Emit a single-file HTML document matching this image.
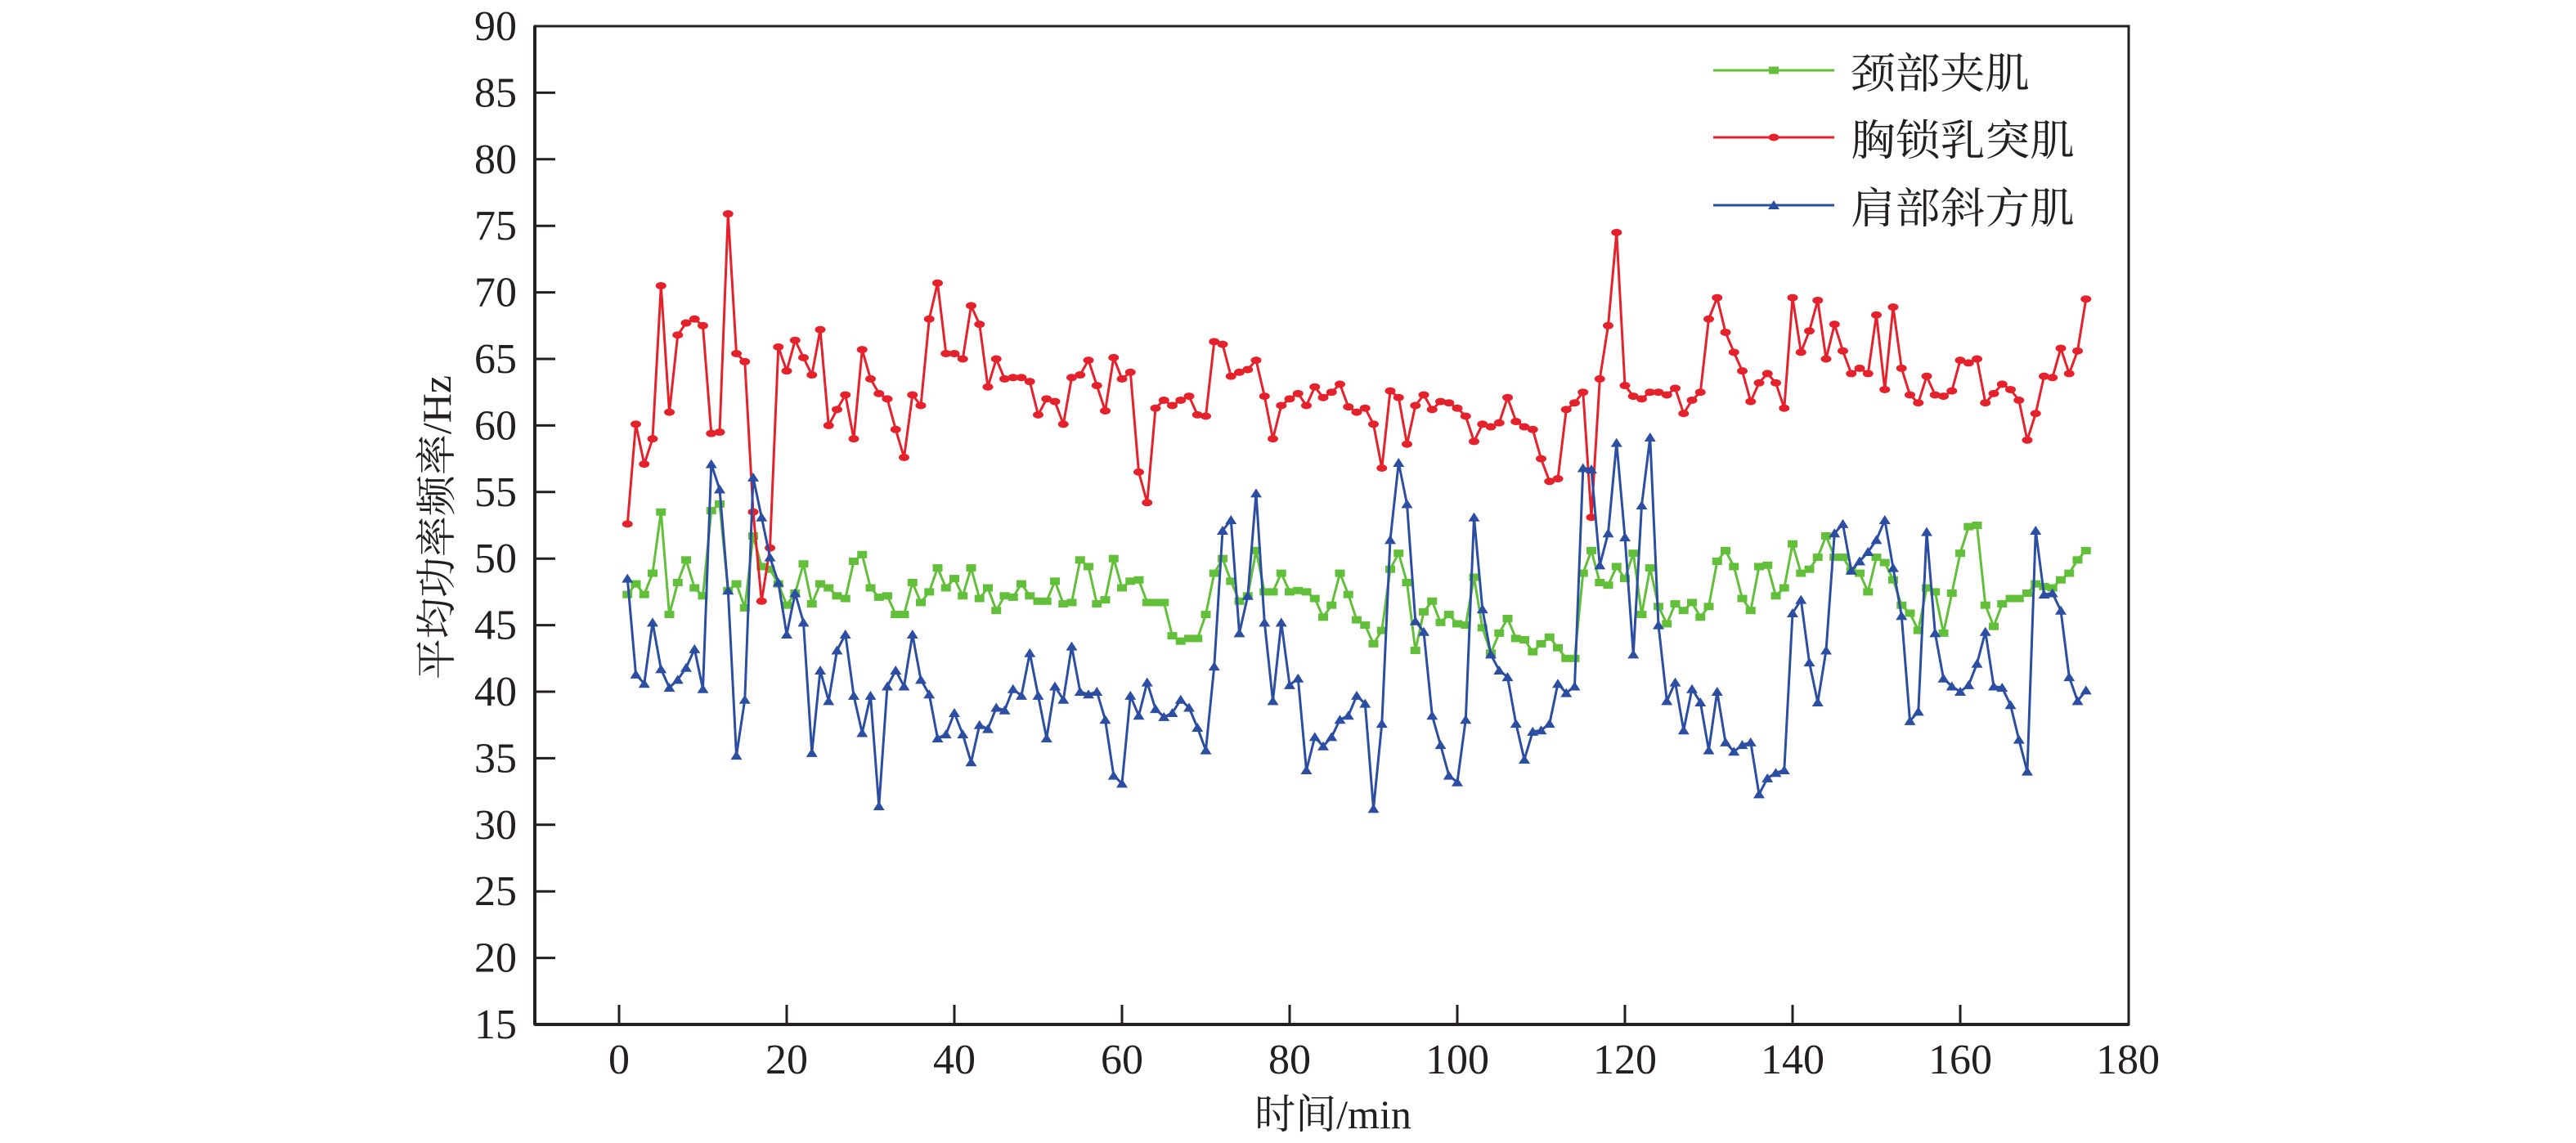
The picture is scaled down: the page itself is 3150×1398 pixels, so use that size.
<!DOCTYPE html>
<html><head><meta charset="utf-8"><style>
html,body{margin:0;padding:0;background:#fff;}
svg{display:block;}
</style></head><body>
<svg id="chart" width="3150" height="1398" viewBox="0 0 3150 1398" xmlns="http://www.w3.org/2000/svg">
<g id="plot"></g>
<g id="axes"></g>
<g id="legend"></g>
</svg>
<script>
const xTicks = [0,20,40,60,80,100,120,140,160,180];
const yTicks = [15,20,25,30,35,40,45,50,55,60,65,70,75,80,85,90];
const seriesNames = ["颈部夹肌","胸锁乳突肌","肩部斜方肌"];
const neckValues = [47.3,48.1,47.3,48.9,53.5,45.8,48.2,49.9,47.8,47.2,53.6,54.1,47.6,48.1,46.3,51.7,49.4,49.2,48.1,46.5,47.4,49.6,46.6,48.1,47.8,47.2,47.0,49.8,50.3,47.8,47.1,47.2,45.8,45.8,48.2,46.7,47.5,49.3,47.8,48.5,47.2,49.3,47.0,47.8,46.1,47.2,47.1,48.1,47.2,46.8,46.8,48.3,46.6,46.7,49.9,49.4,46.6,46.9,50.0,47.8,48.3,48.4,46.7,46.7,46.7,44.2,43.8,44.0,44.0,45.8,48.9,50.0,48.3,46.8,47.2,50.6,47.5,47.5,48.9,47.5,47.6,47.5,47.0,45.6,46.5,48.9,47.3,45.4,45.0,43.6,44.6,49.2,50.4,48.2,43.1,46.0,46.8,45.2,45.8,45.1,45.0,48.6,44.8,42.9,44.4,45.5,44.0,43.9,43.0,43.6,44.1,43.3,42.5,42.5,48.9,50.6,48.2,48.0,49.4,48.5,50.4,45.8,49.3,46.4,45.1,46.6,46.1,46.7,45.6,46.4,49.8,50.6,49.4,47.0,46.1,49.4,49.5,47.2,47.8,51.1,48.9,49.2,50.1,51.7,50.1,50.1,49.1,48.9,47.5,50.1,49.7,48.4,46.5,45.9,44.6,47.8,47.5,44.4,47.4,50.4,52.4,52.5,46.5,44.9,46.6,47.0,47.0,47.4,48.1,47.9,47.8,48.4,48.9,49.9,50.6];
const chestValues = [52.6,60.1,57.1,59.0,70.5,61.0,66.8,67.7,68.0,67.5,59.4,59.5,75.9,65.4,64.8,53.5,46.8,50.8,65.9,64.1,66.4,65.1,63.8,67.2,60.0,61.2,62.3,59.0,65.7,63.5,62.4,62.0,59.7,57.6,62.3,61.5,68.0,70.7,65.4,65.4,65.0,69.0,67.6,62.9,65.0,63.5,63.6,63.6,63.3,60.8,62.0,61.8,60.1,63.6,63.8,64.9,63.0,61.1,65.1,63.5,64.0,56.5,54.2,61.3,61.9,61.5,61.9,62.2,60.8,60.7,66.3,66.1,63.7,64.0,64.2,64.9,62.2,59.0,61.5,62.0,62.4,61.5,62.9,62.1,62.5,63.1,61.4,61.0,61.3,60.1,56.8,62.6,62.1,58.6,61.5,62.3,61.2,61.8,61.7,61.3,60.7,58.8,60.1,59.9,60.2,62.1,60.3,59.9,59.7,57.5,55.8,56.0,61.2,61.7,62.5,53.1,63.5,67.5,74.5,63.0,62.2,62.0,62.5,62.5,62.3,62.8,60.9,61.9,62.5,68.0,69.6,67.0,65.5,64.1,61.8,63.2,63.9,63.2,61.3,69.6,65.5,67.1,69.4,65.0,67.6,65.6,63.9,64.3,63.9,68.3,62.7,68.9,64.3,62.3,61.7,63.7,62.3,62.2,62.6,64.9,64.7,65.0,61.7,62.4,63.1,62.7,61.9,58.9,60.9,63.7,63.6,65.8,63.9,65.6,69.5];
const shoulderValues = [48.5,41.3,40.6,45.2,41.7,40.3,40.9,41.8,43.2,40.2,57.1,55.2,47.6,35.2,39.4,56.1,53.1,50.1,48.2,44.3,47.4,45.2,35.4,41.6,39.3,43.1,44.3,39.7,36.9,39.7,31.4,40.4,41.6,40.4,44.3,40.9,39.8,36.5,36.8,38.4,36.8,34.7,37.5,37.2,38.8,38.6,40.2,39.7,42.9,39.7,36.5,40.4,39.4,43.4,40.0,39.8,40.0,37.9,33.7,33.1,39.7,38.2,40.7,38.7,38.1,38.4,39.4,38.8,37.3,35.6,41.9,52.1,52.9,44.4,47.2,54.9,45.2,39.3,45.2,40.5,41.0,34.1,36.6,35.9,36.6,37.9,38.2,39.7,39.1,31.2,37.6,51.4,57.2,54.1,45.3,44.5,38.2,36.0,33.7,33.2,37.9,53.1,46.2,42.8,41.6,41.1,37.6,34.9,37.0,37.1,37.6,40.6,39.9,40.4,56.8,56.7,49.5,51.9,58.7,51.6,42.8,54.0,59.1,45.0,39.3,40.7,37.1,40.2,39.2,35.6,40.0,36.2,35.5,36.0,36.2,32.3,33.5,33.9,34.1,45.9,46.9,42.2,39.2,43.1,51.9,52.6,49.1,49.8,50.5,51.4,52.9,49.3,45.7,37.8,38.5,52.0,44.4,41.0,40.4,40.0,40.5,42.1,44.5,40.4,40.3,39.0,36.4,34.0,52.1,47.3,47.4,46.1,41.1,39.3,40.1];

const NS = "http://www.w3.org/2000/svg";
const L = 654, R = 2603, T = 32, B = 1253;
const X0 = 757, XPX = 10.25;
function xScale(v){ return X0 + v * XPX; }
function yScale(v){ return B - (v - 15) * (B - T) / 75; }
function mk(tag, attrs, parent){
  const e = document.createElementNS(NS, tag);
  for (const k in attrs) e.setAttribute(k, attrs[k]);
  parent.appendChild(e);
  return e;
}
const plot = document.getElementById('plot');
const axes = document.getElementById('axes');
const legend = document.getElementById('legend');
const colors = ["#62bf3a","#e5222b","#2b4ea3"];
const allSeries = [neckValues, chestValues, shoulderValues];
const seriesKeys = ["neck","chest","shoulder"];

function marker(type, cx, cy, color, parent){
  let m;
  if (type === 0) m = mk('rect', {x: cx-6, y: cy-4.5, width: 12, height: 9, fill: color}, parent);
  else if (type === 1) m = mk('ellipse', {cx: cx, cy: cy, rx: 6.5, ry: 4.5, fill: color}, parent);
  else m = mk('polygon', {points: (cx-7)+','+(cy+5)+' '+(cx+7)+','+(cy+5)+' '+cx+','+(cy-6), fill: color}, parent);
  return m;
}

allSeries.forEach((vals, si) => {
  const g = mk('g', {}, plot);
  
  
  const pts = vals.map((v, i) => xScale(i + 1).toFixed(1) + ',' + yScale(v).toFixed(1)).join(' ');
  const line = mk('polyline', {points: pts, fill: 'none', stroke: colors[si], 'stroke-width': 3, 'stroke-linejoin': 'round'}, g);
  
  
  vals.forEach((v, i) => {
    const m = marker(si, xScale(i + 1), yScale(v), colors[si], g);
    
    
  });
});

// frame
const frame = mk('rect', {x: L, y: T, width: R - L, height: B - T, fill: 'none', stroke: '#231f20', 'stroke-width': 3}, axes);


const la = mk('line', {x1: L, y1: T, x2: L, y2: B, stroke: '#231f20', 'stroke-width': 4}, axes);


const ba = mk('line', {x1: L, y1: B, x2: R, y2: B, stroke: '#231f20', 'stroke-width': 4}, axes);



xTicks.forEach(t => {
  const x = xScale(t);
  if (t > 0 && t < 180) {
    const tk = mk('line', {x1: x, y1: B, x2: x, y2: B - 24, stroke: '#231f20', 'stroke-width': 3}, axes);
    
    
  } else if (t === 0) {
    const tk = mk('line', {x1: x, y1: B, x2: x, y2: B - 24, stroke: '#231f20', 'stroke-width': 3}, axes);
    
    
  }
  const tx = mk('text', {x: x, y: 1313, 'text-anchor': 'middle', 'font-family': '"Liberation Serif", serif', 'font-size': 52, fill: '#231f20'}, axes);
  tx.textContent = String(t);
  
  
});
yTicks.forEach(t => {
  const y = yScale(t);
  if (t > 15 && t < 90) {
    const tk = mk('line', {x1: L, y1: y, x2: L + 25, y2: y, stroke: '#231f20', 'stroke-width': 3}, axes);
    
    
  }
  const tx = mk('text', {x: 632, y: y + 17, 'text-anchor': 'end', 'font-family': '"Liberation Serif", serif', 'font-size': 52, fill: '#231f20'}, axes);
  tx.textContent = String(t);
  
  
});

const xt = mk('text', {x: 1630, y: 1380, 'text-anchor': 'middle', 'font-family': '"Liberation Serif", "Noto Serif CJK SC", serif', 'font-size': 50, fill: '#231f20'}, axes);
xt.textContent = '时间/min';


const yt = mk('text', {x: 0, y: 0, transform: 'translate(551,645) rotate(-90)', 'text-anchor': 'middle', 'font-family': '"Liberation Serif", "Noto Serif CJK SC", serif', 'font-size': 50, fill: '#231f20'}, axes);
yt.textContent = '平均功率频率/Hz';



const legendY = [86, 168, 251];
const legendLen = [219, 274, 274];
seriesNames.forEach((name, si) => {
  const g = mk('g', {}, legend);
  
  
  const y = legendY[si];
  mk('line', {x1: 2095, y1: y, x2: 2243, y2: y, stroke: colors[si], 'stroke-width': 3}, g);
  marker(si, 2169, y, colors[si], g);
  const tx = mk('text', {x: 2263, y: y + 22, 'font-family': '"Liberation Serif", "Noto Serif CJK SC", serif', 'font-size': 52, fill: '#231f20', textLength: legendLen[si], lengthAdjust: 'spacingAndGlyphs'}, g);
  tx.textContent = name;
  
  
});
</script>
</body></html>
